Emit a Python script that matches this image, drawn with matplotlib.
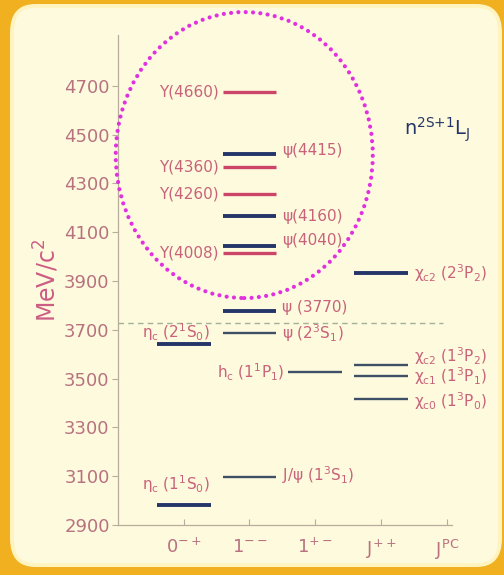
import matplotlib
matplotlib.use("Agg")
import matplotlib.pyplot as plt
from matplotlib.patches import FancyBboxPatch, Ellipse

plt.rcParams['font.family'] = ['DejaVu Sans']
plt.rcParams['mathtext.default'] = 'regular'

# ---------------- data ----------------
jpc_ticks = [1, 2, 3, 4, 5]
jpc_labels = [r'$0^{-+}$', r'$1^{--}$', r'$1^{+-}$', r'$J^{++}$', r'$J^{PC}$']
y_ticks = [2900, 3100, 3300, 3500, 3700, 3900, 4100, 4300, 4500, 4700]

state_labels = ['η$_c$ (1$^1$S$_0$)', 'J/ψ (1$^3$S$_1$)', 'η$_c$ (2$^1$S$_0$)',
                'ψ (2$^3$S$_1$)', 'ψ (3770)', 'h$_c$ (1$^1$P$_1$)',
                'χ$_{c0}$ (1$^3$P$_0$)', 'χ$_{c1}$ (1$^3$P$_1$)', 'χ$_{c2}$ (1$^3$P$_2$)',
                'χ$_{c2}$ (2$^3$P$_2$)', 'Y(4008)', 'ψ(4040)', 'ψ(4160)',
                'Y(4260)', 'Y(4360)', 'ψ(4415)', 'Y(4660)']
state_mass = [2980, 3097, 3640, 3686, 3775, 3525, 3417, 3511, 3556,
              3932, 4015, 4044, 4166, 4256, 4366, 4422, 4673]
state_column = [1, 2, 1, 2, 2, 3, 4, 4, 4, 4, 2, 2, 2, 2, 2, 2, 2]
state_kind = ['thick', 'thin', 'thick', 'thin', 'thick', 'thin', 'thin', 'thin',
              'thin', 'thick', 'Y', 'thick', 'thick', 'Y', 'Y', 'thick', 'Y']
threshold = 3729

# ---------------- styles ----------------
label_side = ['above', 'right', 'above', 'right', 'right', 'left', 'right', 'right',
              'right', 'right', 'left', 'right', 'right', 'left', 'left', 'right', 'left']
label_dy = [15, 1.5, 8.5, 0, 3, 0, -1.5, -0.5, 6, 0, 0, 3.5, 0, 0, 0, 2, 0]
kind_color = {'thick': '#24356A', 'thin': '#3D5068', 'Y': '#CC4468'}
kind_lw = {'thick': 2.8, 'thin': 1.7, 'Y': 2.4}
txt_color = '#C8627A'
tick_color = '#B8727F'
half = 0.41

W, H = 504, 575
fig = plt.figure(figsize=(W / 100, H / 100), dpi=100)
fig.patch.set_facecolor('#F0B020')
fig.patches.append(FancyBboxPatch((10 / W, 8 / H), (492 / W), (563 / H),
                                  boxstyle="round,pad=0,rounding_size=0.05",
                                  transform=fig.transFigure, facecolor='#FFF3C0',
                                  edgecolor='none', zorder=-2))
fig.patches.append(FancyBboxPatch((14 / W, 12 / H), (484 / W), (555 / H),
                                  boxstyle="round,pad=0,rounding_size=0.04",
                                  transform=fig.transFigure, facecolor='#FEFADD',
                                  edgecolor='none', zorder=-1))

ax = fig.add_axes([118 / W, 50 / H, 334 / W, 490 / H])
ax.set_zorder(2)
ax.patch.set_alpha(0)
ax.set_xlim(0, 5.08)
ax.set_ylim(2900, 4908)

for sp in ['top', 'right']:
    ax.spines[sp].set_visible(False)
for sp in ['left', 'bottom']:
    ax.spines[sp].set_color('#B8AC9C')
    ax.spines[sp].set_linewidth(0.9)

ax.set_yticks(y_ticks)
ax.set_yticklabels([str(v) for v in y_ticks])
ax.set_xticks(jpc_ticks)
ax.set_xticklabels(jpc_labels)
ax.tick_params(axis='y', direction='out', length=4, color='#B8AC9C',
               labelcolor=tick_color, labelsize=13, pad=2)
ax.tick_params(axis='x', direction='in', length=4, color='#B8AC9C',
               labelcolor=tick_color, labelsize=13, pad=9)
ax.set_ylabel('MeV/c$^2$', color='#CC5C84', fontsize=17, labelpad=2)

# threshold dashed line
ax.plot([0, 4.94], [threshold, threshold], color='#A2B29A', lw=1.0,
        ls=(0, (4, 3)), zorder=2)

for lab, m, c, k, side, dy in zip(state_labels, state_mass, state_column,
                                  state_kind, label_side, label_dy):
    ax.plot([c - half, c + half], [m, m], color=kind_color[k], lw=kind_lw[k],
            solid_capstyle='butt', zorder=3)
    if side == 'left':
        ax.annotate(lab, (c - half, m), xytext=(-3, dy), textcoords='offset points',
                    ha='right', va='center', color=txt_color, fontsize=11)
    elif side == 'right':
        ax.annotate(lab, (c + half, m), xytext=(4, dy), textcoords='offset points',
                    ha='left', va='center', color=txt_color, fontsize=11)
    else:
        ax.annotate(lab, (c - 0.12, m), xytext=(0, dy), textcoords='offset points',
                    ha='center', va='center', color=txt_color, fontsize=11)

# dotted magenta ellipse
ell = Ellipse((1.92, 4416), 3.91, 1172, fill=False, edgecolor='#E030E0',
              lw=3.0, ls=(0, (0.01, 1.75)), capstyle='round', clip_on=False, zorder=4)
ax.add_patch(ell)

fig.text(404 / W, 1 - 130 / H, 'n$^{2S{+}1}$L$_J$', color='#24356A', fontsize=14,
         ha='left', va='center', zorder=5)

fig.savefig('out.png', dpi=100, facecolor=fig.get_facecolor())
